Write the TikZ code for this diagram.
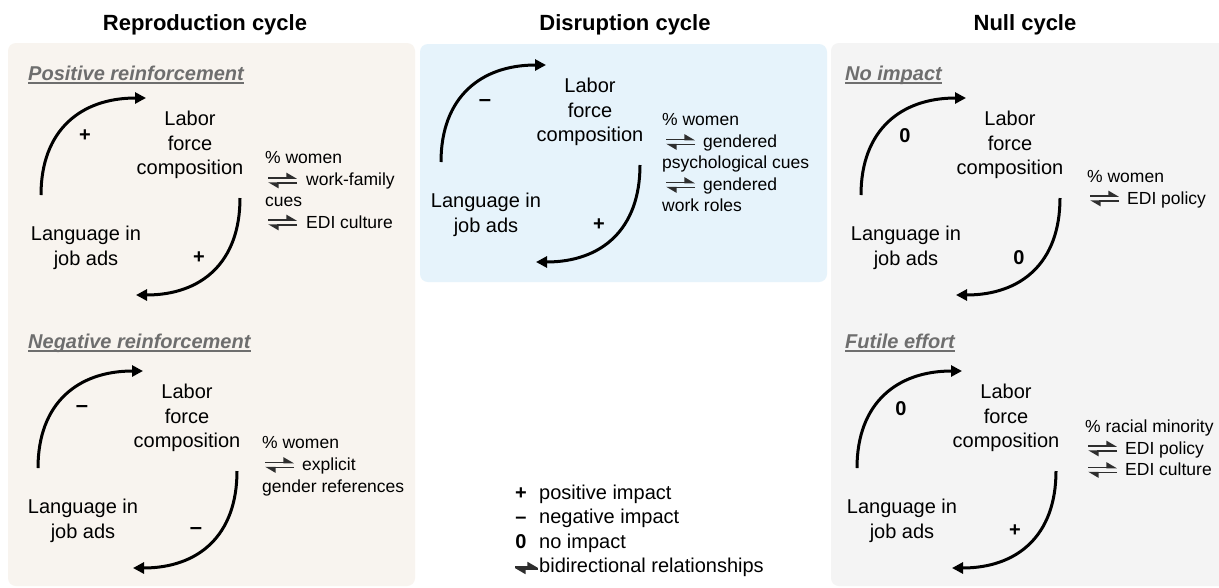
\documentclass[tikz,border=0pt]{standalone}
\usepackage{fontspec}
\setmainfont{Liberation Sans}
\usetikzlibrary{arrows.meta,calc}
\definecolor{bgA}{HTML}{F8F4EF}
\definecolor{bgB}{HTML}{E6F3FB}
\definecolor{bgC}{HTML}{F4F4F4}
\definecolor{subgray}{HTML}{6E6E6E}
\definecolor{hpgray}{HTML}{2E2E2E}
\tikzset{
  arc/.style={line width=3pt,-{Triangle[length=11pt,width=11pt]}},
  mainlbl/.style={font=\fontsize{20}{24.5}\selectfont,align=center,inner sep=0pt},
  sign/.style={font=\fontsize{20}{20}\selectfont\bfseries,inner sep=0pt},
  dashsign/.style={font=\fontsize{22}{22}\selectfont\bfseries,inner sep=0pt},
  rt/.style={font=\fontsize{17.5}{21}\selectfont,inner sep=0pt,anchor=base west},
  title/.style={font=\fontsize{22}{26}\selectfont\bfseries,inner sep=0pt,anchor=base},
  subt/.style={font=\fontsize{20}{24}\selectfont\bfseries\itshape,text=subgray,inner sep=0pt,anchor=base west},
  uline/.style={draw=subgray,line width=1.4pt},
  hp/.style={draw=hpgray,line width=1.7pt,-{Triangle[left,length=9pt,width=10pt]}},
  leg/.style={font=\fontsize{20}{24}\selectfont,inner sep=0pt,anchor=base west},
  legsign/.style={font=\fontsize{20}{24}\selectfont\bfseries,inner sep=0pt,anchor=base},
}
\newcommand\fbcycle[6]{%
\begin{scope}[shift={(#2,#3)}]
  \coordinate (#1s1) at (0,0);
  \coordinate (#1e1) at (105,-97);
  \coordinate (#1s2) at (199,3);
  \coordinate (#1e2) at (95,100);
  \draw[arc] (#1s1) .. controls (0,-65) and (40,-97) .. (#1e1);
  \draw[arc] (#1s2) .. controls (199,68) and (160,100) .. (#1e2);
  \node[mainlbl] (#1lab) at (149,-50) {Labor\\force\\composition};
  \node[mainlbl] (#1lang) at (45,53) {Language in\\job ads};
  \node[#6] (#1p1) at (44,-59) {#4};
  \node[#6] (#1p2) at (158,63) {#5};
\end{scope}}
\newcommand\fbharp[3]{%
  \coordinate (#1l) at (#2,#3);
  \coordinate (#1r) at (#2+29,#3);
  \draw[hp] ([yshift=2.6pt]#1l) -- ([yshift=2.6pt]#1r);
  \draw[hp] ([yshift=-2.6pt]#1r) -- ([yshift=-2.6pt]#1l);
}
\begin{document}
\begin{tikzpicture}[x=1pt,y=-1pt]
\useasboundingbox (0,0) rectangle (1219,587);
\fill[white] (0,0) rectangle (1219,587);
% panels
\fill[bgA,rounded corners=8pt] (8,43) rectangle (415,586);
\fill[bgB,rounded corners=8pt] (420,44) rectangle (827,282);
\fill[bgC,rounded corners=8pt] (831,43) rectangle (1230,586);
% titles
\node[title] (t1) at (205,30) {Reproduction cycle};
\node[title] (t2) at (625,30) {Disruption cycle};
\node[title] (t3) at (1025,30) {Null cycle};
% subtitles
\node[subt] (s1) at (28,80) {Positive reinforcement};
\draw[uline] ([yshift=-3pt]s1.base west) -- ([yshift=-3pt]s1.base east);
\node[subt] (s2) at (28,348) {Negative reinforcement};
\draw[uline] ([yshift=-3pt]s2.base west) -- ([yshift=-3pt]s2.base east);
\node[subt] (s3) at (845,80) {No impact};
\draw[uline] ([yshift=-3pt]s3.base west) -- ([yshift=-3pt]s3.base east);
\node[subt] (s4) at (845,348) {Futile effort};
\draw[uline] ([yshift=-3pt]s4.base west) -- ([yshift=-3pt]s4.base east);
% cycles
\fbcycle{A}{41}{195}{+}{+}{sign}
\fbcycle{B}{38}{468}{--}{--}{dashsign}
\fbcycle{C}{441}{162}{--}{}{dashsign}
\node[sign] (Cp2b) at (441+158,162+63) {+};
\fbcycle{D}{861}{195}{0}{0}{sign}
\fbcycle{E}{857}{468}{0}{+}{sign}
% right texts A
\node[rt] (A1) at (265,163) {\% women};
\fbharp{Ah1}{268}{180.5}
\node[rt] (A2) at (306,185.5) {work-family};
\node[rt] (A3) at (265,206) {cues};
\fbharp{Ah2}{268}{222.5}
\node[rt] (A4) at (306,228) {EDI culture};
% right texts B
\node[rt] (B1) at (262,448) {\% women};
\fbharp{Bh1}{265}{465}
\node[rt] (B2) at (302,470) {explicit};
\node[rt] (B3) at (262,492) {gender references};
% right texts C
\node[rt] (C1) at (662,125) {\% women};
\fbharp{Ch1}{666}{142}
\node[rt] (C2) at (703,147) {gendered};
\node[rt] (C3) at (662,168) {psychological cues};
\fbharp{Ch2}{666}{185}
\node[rt] (C4) at (703,190) {gendered};
\node[rt] (C5) at (662,211) {work roles};
% right texts D
\node[rt] (D1) at (1087,182) {\% women};
\fbharp{Dh1}{1090}{198.5}
\node[rt] (D2) at (1127,204) {EDI policy};
% right texts E
\node[rt] (E1) at (1085,432) {\% racial minority};
\fbharp{Eh1}{1088}{448.5}
\node[rt] (E2) at (1125,454) {EDI policy};
\fbharp{Eh2}{1088}{470}
\node[rt] (E3) at (1125,475.5) {EDI culture};
% legend
\node[legsign] (L1s) at (521,499) {+};
\node[leg] (L1) at (539,499) {positive impact};
\node[legsign] (L2s) at (521,523.5) {--};
\node[leg] (L2) at (539,523.5) {negative impact};
\node[legsign] (L3s) at (521,548) {0};
\node[leg] (L3) at (539,548) {no impact};
\coordinate (Lhl) at (515,568);
\coordinate (Lhr) at (538,568);
\draw[hp] ([yshift=1pt]Lhl) -- ([yshift=1pt]Lhr);
\draw[hp] ([yshift=-1pt]Lhr) -- ([yshift=-1pt]Lhl);
\node[leg] (L4) at (539,572.5) {bidirectional relationships};
\end{tikzpicture}
\end{document}
